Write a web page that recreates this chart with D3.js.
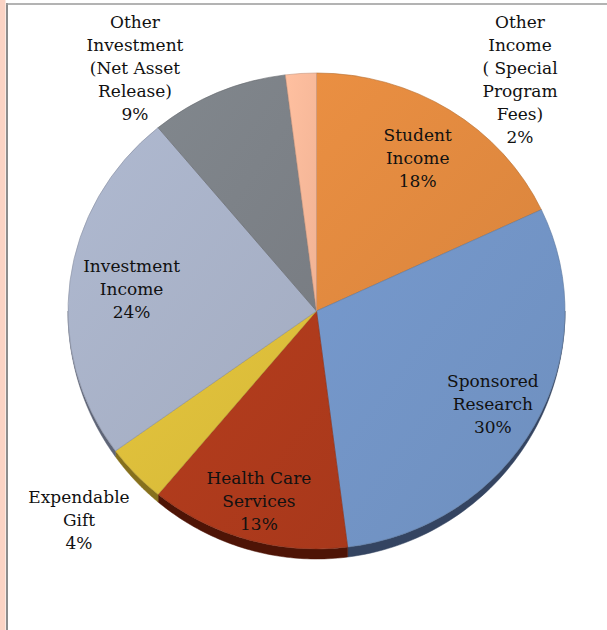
<!DOCTYPE html>
<html>
<head>
<meta charset="utf-8">
<script src="https://cdn.jsdelivr.net/npm/d3@7"></script>
<style>
  body { margin: 0; background: #fff; }
  svg { display: block; }
  text { font-family: "DejaVu Serif", serif; font-size: 17px; fill: #111; }
</style>
</head>
<body>
<svg id="chart" width="607" height="630"></svg>
<script>
// slice data, clockwise from 12 o'clock
const categories = [
  'Student Income',
  'Sponsored Research',
  'Health Care Services',
  'Expendable Gift',
  'Investment Income',
  'Other Investment (Net Asset Release)',
  'Other Income ( Special Program Fees)'
];
const values = [18, 30, 13, 4, 24, 9, 2];
const labelLines = [
  ['Student', 'Income', '18%'],
  ['Sponsored', 'Research', '30%'],
  ['Health Care', 'Services', '13%'],
  ['Expendable', 'Gift', '4%'],
  ['Investment', 'Income', '24%'],
  ['Other', 'Investment', '(Net Asset', 'Release)', '9%'],
  ['Other', 'Income', '( Special', 'Program', 'Fees)', '2%']
];
const topColors = ['#e0893f', '#7193c4', '#ad3a1c', '#dbbd3a', '#a8b1c7', '#7c8187', '#f8b899'];
const sideColors = ['#8a4f1e', '#344461', '#4e1406', '#86701c', '#5e6577', '#44484d', '#9a6a55'];

const svg = d3.select('#chart');
const W = +svg.attr('width');

// frame like the source slide
svg.append('rect').attr('x', 0).attr('y', 0).attr('width', 5.5).attr('height', 630).attr('fill', '#fbd3c4');
svg.append('line').attr('x1', 7).attr('x2', 7).attr('y1', 3).attr('y2', 630)
  .attr('stroke', '#8c8c8c').attr('stroke-width', 2);
svg.append('line').attr('x1', 6).attr('x2', W).attr('y1', 4).attr('y2', 4)
  .attr('stroke', '#9a9a9a').attr('stroke-width', 1.5);

const cx = 316.5, cy = 311, rx = 248.5, ry = 238, depth = 10;

const pie = d3.pie().sort(null).value(d => d);
const arcs = pie(values);

const defs = svg.append('defs');
arcs.forEach((a, i) => {
  const g = defs.append('linearGradient').attr('id', 'g' + i)
    .attr('x1', '0%').attr('y1', '0%').attr('x2', '100%').attr('y2', '100%');
  g.append('stop').attr('offset', '0%').attr('stop-color', d3.color(topColors[i]).brighter(0.12));
  g.append('stop').attr('offset', '100%').attr('stop-color', d3.color(topColors[i]).darker(0.08));
});

const px = a => cx + rx * Math.sin(a);
const py = a => cy - ry * Math.cos(a);
// wall height seen from a tilted view: full at the front, nothing at the sides
const wall = a => depth * Math.max(0, -Math.cos(a));

// visible side wall (lower half of the ellipse)
const sides = svg.append('g');
arcs.forEach((a, i) => {
  const a0 = Math.max(a.startAngle, Math.PI / 2);
  const a1 = Math.min(a.endAngle, 3 * Math.PI / 2);
  if (a1 <= a0) return;
  const steps = d3.range(0, 61).map(k => a0 + (a1 - a0) * k / 60);
  const p = d3.path();
  steps.forEach((t, k) => k ? p.lineTo(px(t), py(t)) : p.moveTo(px(t), py(t)));
  steps.slice().reverse().forEach(t => p.lineTo(px(t), py(t) + wall(t)));
  p.closePath();
  sides.append('path').attr('d', p.toString()).attr('fill', sideColors[i])
    .attr('stroke', sideColors[i]).attr('stroke-width', 0.5);
});

// top face drawn as a circle squashed into the ellipse
const arc = d3.arc().innerRadius(0).outerRadius(rx);
svg.append('g')
  .attr('transform', `translate(${cx},${cy}) scale(1,${ry / rx})`)
  .selectAll('path')
  .data(arcs)
  .join('path')
  .attr('d', arc)
  .attr('fill', (d, i) => `url(#g${i})`)
  .attr('stroke', (d, i) => d3.color(topColors[i]).darker(0.6))
  .attr('stroke-width', 0.6)
  .attr('vector-effect', 'non-scaling-stroke');

// label anchors: inside labels at a fraction of the radius, outside ones set by hand
const labelR = [0.76, 0.81, 0.83, null, 0.75, null, null];
const outside = { 3: [79, 497], 5: [135, 22], 6: [520, 22] };
const lineH = 23;

arcs.forEach((a, i) => {
  const lines = labelLines[i];
  let x, y0;
  if (labelR[i] !== null) {
    const m = (a.startAngle + a.endAngle) / 2;
    x = cx + rx * labelR[i] * Math.sin(m);
    const yc = cy - ry * labelR[i] * Math.cos(m);
    y0 = yc - (lines.length - 1) * lineH / 2;
  } else {
    [x, y0] = outside[i];
  }
  const t = svg.append('text').attr('text-anchor', 'middle');
  lines.forEach((s, k) => {
    t.append('tspan').attr('x', x).attr('y', y0 + k * lineH).attr('dy', '0.35em').text(s);
  });
});
</script>
</body>
</html>
